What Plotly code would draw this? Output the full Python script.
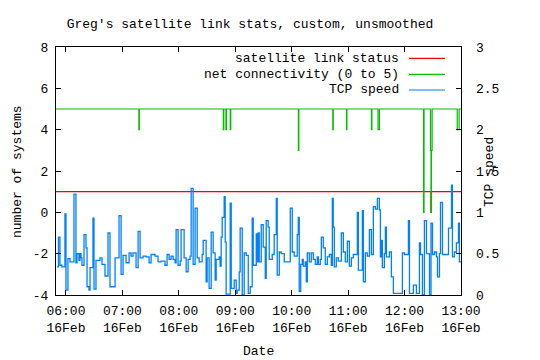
import plotly.graph_objects as go
import pandas as pd

# ---------------- data (minutes after 06:00 on 16 Feb) ----------------
series_names = ["satellite link status", "net connectivity (0 to 5)", "TCP speed"]
series_colors = ["#ff0000", "#00c000", "#0080ff"]

sat_minutes = [-10.6, 388.1, 388.5, 420.5]
sat_status = [1, 0, 1, 1]

net_minutes = [-10.6, 77.5, 78.0, 167.3, 167.8, 170.1, 170.6, 174.7, 175.2,
               247.1, 247.6, 283.7, 284.2, 298.2, 298.7, 324.8, 325.3,
               331.8, 333.3, 380.2, 380.7, 387.6, 388.1, 388.5, 389.3,
               416.0, 418.0, 420.5]
net_conn = [5, 4, 5, 4, 5, 4, 5, 4, 5,
            3, 5, 4, 5, 4, 5, 4, 5,
            4, 5, 0, 5, 3, 0, 3, 5,
            4, 5, 5]

tcp_minutes = [
    -9.6, -8.0, -6.4, -4.3, -1.1, 0.0, 2.1, 4.3, 8.5, 10.6,
    11.7, 13.8, 14.9, 16.0, 17.0, 19.2, 21.3, 22.4, 24.5, 25.6,
    28.7, 29.8, 31.9, 36.2, 38.3, 41.5, 44.7, 46.8, 52.2, 56.4,
    58.6, 60.7, 63.9, 67.1, 69.2, 71.3, 74.5, 76.7, 78.8, 82.0,
    85.2, 88.4, 90.5, 94.7, 97.9, 101.1, 105.3, 107.5, 109.7, 111.8,
    113.9, 116.0, 117.1, 119.2, 121.4, 122.4, 125.6, 127.8, 129.9, 132.0,
    133.1, 135.2, 137.3, 139.5, 141.6, 144.8, 145.9, 149.0, 150.1, 152.2,
    154.4, 156.5, 158.6, 159.7, 162.9, 163.9, 165.0, 166.1, 168.2, 169.3,
    170.3, 174.6, 175.7, 178.9, 181.0, 182.0, 184.2, 185.2, 187.4, 189.5,
    191.6, 193.8, 195.9, 198.0, 199.1, 202.3, 203.4, 204.4, 205.5, 207.6,
    209.7, 211.9, 212.9, 215.0, 216.1, 219.3, 221.4, 223.6, 224.6, 226.8,
    228.9, 232.1, 238.5, 240.6, 242.7, 245.9, 247.0, 248.0, 249.6, 251.2,
    252.3, 254.4, 255.5, 256.6, 258.7, 260.8, 263.0, 265.1, 267.2, 268.3,
    270.4, 271.5, 273.6, 275.7, 277.9, 280.0, 282.1, 283.2, 284.2, 285.3,
    287.4, 289.6, 292.8, 294.9, 297.0, 299.2, 301.3, 303.4, 305.5, 309.8,
    310.9, 315.1, 316.2, 318.3, 320.4, 322.6, 324.7, 326.8, 329.0, 331.1,
    333.2, 334.3, 335.3, 336.4, 338.5, 339.6, 340.7, 343.9, 346.0, 348.1,
    357.7, 359.8, 364.1, 365.2, 369.4, 372.6, 375.8, 376.9, 379.0, 381.1,
    383.3, 386.5, 388.1, 389.7, 391.8, 393.9, 395.0, 397.1, 398.2, 400.3,
    406.7, 409.9, 410.9, 413.0, 415.1, 417.3, 418.3, 420.5,
]
tcp_speed = [
    0.34, 0.70, 0.36, 0.34, 0.98, 0.06, 0.44, 0.40, 1.22, 0.39,
    0.50, 0.42, 0.50, 0.45, 0.36, 0.73, 0.57, 0.10, 0.06, 0.33,
    0.93, 0.07, 0.42, 0.45, 0.37, 0.23, 0.75, 0.10, 0.45, 0.96,
    0.25, 0.48, 0.39, 0.51, 0.47, 0.51, 0.33, 0.77, 0.45, 0.47,
    0.46, 0.39, 0.49, 0.47, 0.40, 0.41, 0.36, 0.49, 0.43, 0.47,
    0.43, 0.39, 0.79, 0.36, 0.41, 0.79, 0.45, 0.28, 0.43, 0.47,
    1.29, 0.37, 1.05, 0.45, 0.40, 0.49, 0.66, 0.16, 0.45, 0.08,
    0.76, 0.51, 0.18, 0.43, 0.46, 0.35, 0.70, 0.94, 1.19, 0.64,
    0.01, 1.11, 0.08, 0.18, 0.02, 0.06, 0.28, 0.81, 0.00, 0.51,
    0.48, 0.02, 0.10, 0.93, 0.36, 0.74, 0.40, 0.75, 0.40, 0.85,
    0.58, 0.20, 0.90, 0.82, 0.43, 0.49, 0.73, 1.17, 0.24, 0.52,
    0.50, 0.40, 1.05, 0.52, 0.47, 0.73, 0.94, 0.04, 0.37, 0.43,
    0.35, 0.40, 0.16, 0.51, 0.40, 0.51, 0.43, 0.37, 0.46, 0.37,
    0.43, 0.70, 0.57, 0.37, 0.46, 0.49, 0.36, 1.17, 0.82, 0.34,
    0.45, 0.41, 0.75, 0.52, 0.40, 0.65, 0.35, 0.45, 0.49, 1.00,
    0.30, 1.02, 0.16, 0.51, 0.47, 0.79, 0.49, 1.07, 1.04, 1.17,
    1.03, 0.46, 0.66, 0.33, 0.50, 0.82, 0.46, 0.52, 0.22, 0.02,
    0.51, 0.49, 0.90, 0.02, 0.12, 0.02, 0.63, 0.49, 0.00, 0.90,
    0.50, 0.00, 0.87, 0.49, 0.52, 0.46, 0.22, 0.50, 1.12, 0.49,
    0.81, 1.33, 0.46, 0.52, 0.63, 0.87, 0.40, 0.40,
]

y_tickvals = [-4, -2, 0, 2, 4, 6, 8]
y_ticktext = ["-4", "-2", "0", "2", "4", "6", "8"]
y2_tickvals = [0, 0.5, 1, 1.5, 2, 2.5, 3]
y2_ticktext = ["0", "0.5", "1", "1.5", "2", "2.5", "3"]

title_text = "Greg's satellite link stats, custom, unsmoothed"
xlabel = "Date"
ylabel = "number of systems"
y2label = "TCP speed"

# ---------------- figure ----------------
base = pd.Timestamp("2005-02-16 06:00")


def to_time(mins):
    return [base + pd.Timedelta(minutes=m) for m in mins]


FONT = "Liberation Mono"

fig = go.Figure()
fig.add_trace(go.Scatter(x=to_time(sat_minutes), y=sat_status, mode="lines",
                         line=dict(color=series_colors[0], width=1.4, shape="hv"),
                         name=series_names[0], hoverinfo="skip"))
fig.add_trace(go.Scatter(x=to_time(net_minutes), y=net_conn, mode="lines",
                         line=dict(color=series_colors[1], width=1.2, shape="hv"),
                         name=series_names[1], hoverinfo="skip"))
fig.add_trace(go.Scatter(x=to_time(tcp_minutes), y=tcp_speed, mode="lines",
                         yaxis="y2",
                         line=dict(color=series_colors[2], width=1.3, shape="hv"),
                         name=series_names[2], hoverinfo="skip"))

x_start = base + pd.Timedelta(minutes=-10.6)
x_end = base + pd.Timedelta(minutes=420)

fig.update_layout(
    width=540, height=360,
    margin=dict(l=56, r=79, t=47, b=65),
    paper_bgcolor="white", plot_bgcolor="white",
    showlegend=False,
    hovermode=False,
    font=dict(family=FONT, size=13, color="black"),
    title=dict(text=title_text, x=250 / 540, xanchor="center",
               y=1 - 23 / 360, yanchor="middle",
               font=dict(family=FONT, size=13, color="black")),
    xaxis=dict(type="date", range=[x_start, x_end],
               tick0=base, dtick=3600000, tickformat="%H:%M<br>%d%b",
               ticks="inside", ticklen=5, tickcolor="black",
               showline=True, linecolor="black", linewidth=1, mirror="ticks",
               showgrid=False, zeroline=False, ticklabelstandoff=3,
               tickfont=dict(family=FONT, size=13, color="black")),
    yaxis=dict(range=[-4, 8], tickvals=y_tickvals, ticktext=y_ticktext,
               ticks="inside", ticklen=5, tickcolor="black",
               showline=True, linecolor="black", linewidth=1, mirror="ticks",
               showgrid=False, zeroline=False, ticklabelstandoff=4,
               tickfont=dict(family=FONT, size=13, color="black")),
    yaxis2=dict(range=[0, 3], overlaying="y", side="right",
                tickvals=y2_tickvals, ticktext=y2_ticktext,
                ticks="", showline=False, showgrid=False, zeroline=False,
                ticklabelstandoff=14,
                tickfont=dict(family=FONT, size=13, color="black")),
)

annotations = [
    dict(text=xlabel, xref="paper", yref="paper", x=0.5, y=(295 - 351) / 248,
         xanchor="center", yanchor="middle", showarrow=False),
    dict(text=ylabel, xref="paper", yref="paper", x=(18 - 56) / 405, y=0.496,
         xanchor="center", yanchor="middle", textangle=-90, showarrow=False),
    dict(text=y2label, xref="paper", yref="paper", x=(490 - 56) / 405, y=0.496,
         xanchor="center", yanchor="middle", textangle=-90, showarrow=False),
]
legend_rows = [(295 - 58.3) / 248, (295 - 74.3) / 248, (295 - 90) / 248]
shapes = []
for name, color, yy in zip(series_names, series_colors, legend_rows):
    annotations.append(dict(text=name, xref="paper", yref="paper",
                            x=(401 - 56) / 405, y=yy, xanchor="right",
                            yanchor="middle", showarrow=False))
    shapes.append(dict(type="line", xref="paper", yref="paper",
                       x0=(409 - 56) / 405, x1=(445 - 56) / 405, y0=yy, y1=yy,
                       line=dict(color=color, width=1.2)))
fig.update_layout(annotations=annotations, shapes=shapes)

fig.write_html("out.html",
               config={"displayModeBar": False, "staticPlot": True},
               post_script="document.body.style.margin='0';document.body.style.padding='0';")
